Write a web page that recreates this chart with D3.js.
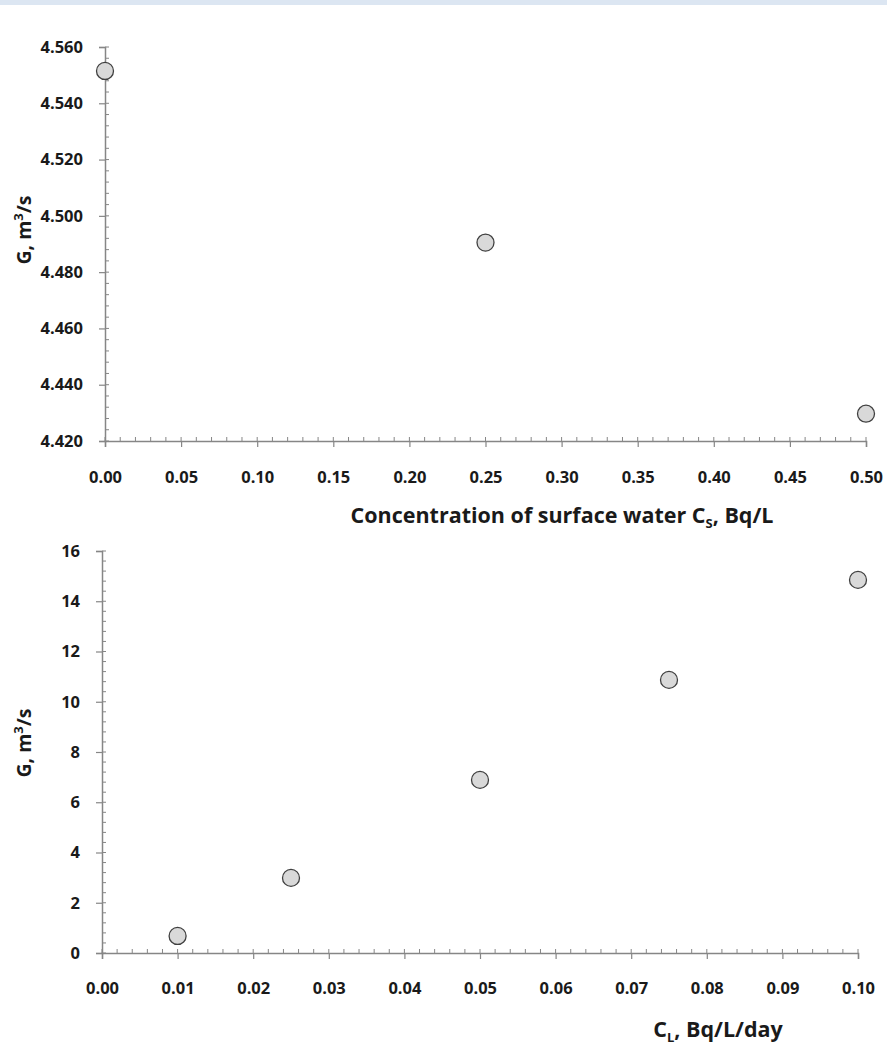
<!DOCTYPE html>
<html>
<head>
<meta charset="utf-8">
<script src="https://cdn.jsdelivr.net/npm/d3@7"></script>
<style>
  body { margin: 0; background: #fff; }
  text { font-family: "Open Sans", sans-serif; font-weight: bold; fill: #1a1a1a; }
</style>
</head>
<body>
<div id="chart"></div>
<script>
// top panel: G vs concentration of surface water
const topX = [0.00, 0.25, 0.50];
const topY = [4.5515, 4.4905, 4.4297];
const topXTicks = [0, 0.05, 0.10, 0.15, 0.20, 0.25, 0.30, 0.35, 0.40, 0.45, 0.50];
const topYTicks = [4.42, 4.44, 4.46, 4.48, 4.50, 4.52, 4.54, 4.56];

// bottom panel: G vs C_L
const botX = [0.010, 0.025, 0.050, 0.075, 0.100];
const botY = [0.68, 2.99, 6.89, 10.87, 14.85];
const botXTicks = [0, 0.01, 0.02, 0.03, 0.04, 0.05, 0.06, 0.07, 0.08, 0.09, 0.10];
const botYTicks = [0, 2, 4, 6, 8, 10, 12, 14, 16];

const W = 887, H = 1047;
const svg = d3.select("#chart").append("svg")
    .attr("width", W)
    .attr("height", H)
    .style("display", "block");

// light band along the top edge
svg.append("rect").attr("x", 0).attr("y", 0).attr("width", W).attr("height", 5)
    .attr("fill", "#dce6f2");

const axisColor = "#868686";

function panel(cfg) {
    const g = svg.append("g");

    const x = d3.scaleLinear().domain(cfg.xDomain).range([cfg.left, cfg.right]);
    const y = d3.scaleLinear().domain(cfg.yDomain).range([cfg.bottom, cfg.top]);

    // minor ticks (inside)
    const xMinor = d3.range(0, cfg.xMinorN + 1).map(i => cfg.xDomain[0] + i * cfg.xMinorStep);
    const yMinor = d3.range(0, cfg.yMinorN + 1).map(i => cfg.yDomain[0] + i * cfg.yMinorStep);

    g.selectAll(".xminor").data(xMinor).join("line")
        .attr("x1", d => x(d)).attr("x2", d => x(d))
        .attr("y1", cfg.bottom).attr("y2", cfg.bottom - 4)
        .attr("stroke", axisColor).attr("stroke-width", 1);

    g.selectAll(".yminor").data(yMinor).join("line")
        .attr("x1", cfg.left).attr("x2", cfg.left + 4)
        .attr("y1", d => y(d)).attr("y2", d => y(d))
        .attr("stroke", axisColor).attr("stroke-width", 1);

    // major axes (ticks outside)
    const xAxis = g.append("g")
        .attr("transform", `translate(0,${cfg.bottom})`)
        .call(d3.axisBottom(x).tickValues(cfg.xTicks).tickSize(6).tickPadding(cfg.xPad)
            .tickFormat(d3.format(".2f")));
    const yAxis = g.append("g")
        .attr("transform", `translate(${cfg.left},0)`)
        .call(d3.axisLeft(y).tickValues(cfg.yTicks).tickSize(6).tickPadding(16)
            .tickFormat(cfg.yFormat));

    [xAxis, yAxis].forEach(a => {
        a.select(".domain").attr("stroke", axisColor).attr("stroke-width", 1.5);
        a.selectAll(".tick line").attr("stroke", axisColor).attr("stroke-width", 1.2);
        a.selectAll(".tick text").attr("font-size", 16.5).attr("fill", "#1a1a1a")
            .attr("font-family", "'Open Sans', sans-serif").attr("font-weight", "bold");
    });

    g.selectAll("circle").data(cfg.xs).join("circle")
        .attr("cx", d => x(d))
        .attr("cy", (d, i) => y(cfg.ys[i]))
        .attr("r", 8.5)
        .attr("fill", "#d9d9d9")
        .attr("stroke", "#404040")
        .attr("stroke-width", 1.3);

    // y title
    const yt = g.append("text")
        .attr("transform", `translate(${cfg.yTitleX},${cfg.yTitleY}) rotate(-90)`)
        .attr("text-anchor", "middle")
        .attr("font-size", 19.5);
    yt.append("tspan").text("G, m");
    yt.append("tspan").attr("dy", -8).attr("font-size", 13).text("3");
    yt.append("tspan").attr("dy", 8).text("/s");

    // x title
    const xt = g.append("text")
        .attr("x", cfg.xTitleX).attr("y", cfg.xTitleY)
        .attr("text-anchor", "middle")
        .attr("font-size", 21.5);
    xt.append("tspan").text(cfg.xTitle[0]);
    xt.append("tspan").attr("dy", 5).attr("font-size", 13).text(cfg.xTitle[1]);
    xt.append("tspan").attr("dy", -5).text(cfg.xTitle[2]);
}

panel({
    xDomain: [0, 0.5], yDomain: [4.42, 4.56],
    left: 105, right: 866, top: 47, bottom: 441,
    xTicks: topXTicks, yTicks: topYTicks,
    xMinorN: 50, xMinorStep: 0.01,
    yMinorN: 35, yMinorStep: 0.004,
    yFormat: d3.format(".3f"),
    xPad: 24,
    xs: topX, ys: topY,
    yTitleX: 31, yTitleY: 230,
    xTitleX: 562, xTitleY: 523,
    xTitle: ["Concentration of surface water C", "S", ", Bq/L"]
});

panel({
    xDomain: [0, 0.1], yDomain: [0, 16],
    left: 102, right: 858, top: 551, bottom: 953,
    xTicks: botXTicks, yTicks: botYTicks,
    xMinorN: 50, xMinorStep: 0.002,
    yMinorN: 40, yMinorStep: 0.4,
    yFormat: d3.format("d"),
    xPad: 23,
    xs: botX, ys: botY,
    yTitleX: 31, yTitleY: 743,
    xTitleX: 718, xTitleY: 1037,
    xTitle: ["C", "L", ", Bq/L/day"]
});
</script>
</body>
</html>
